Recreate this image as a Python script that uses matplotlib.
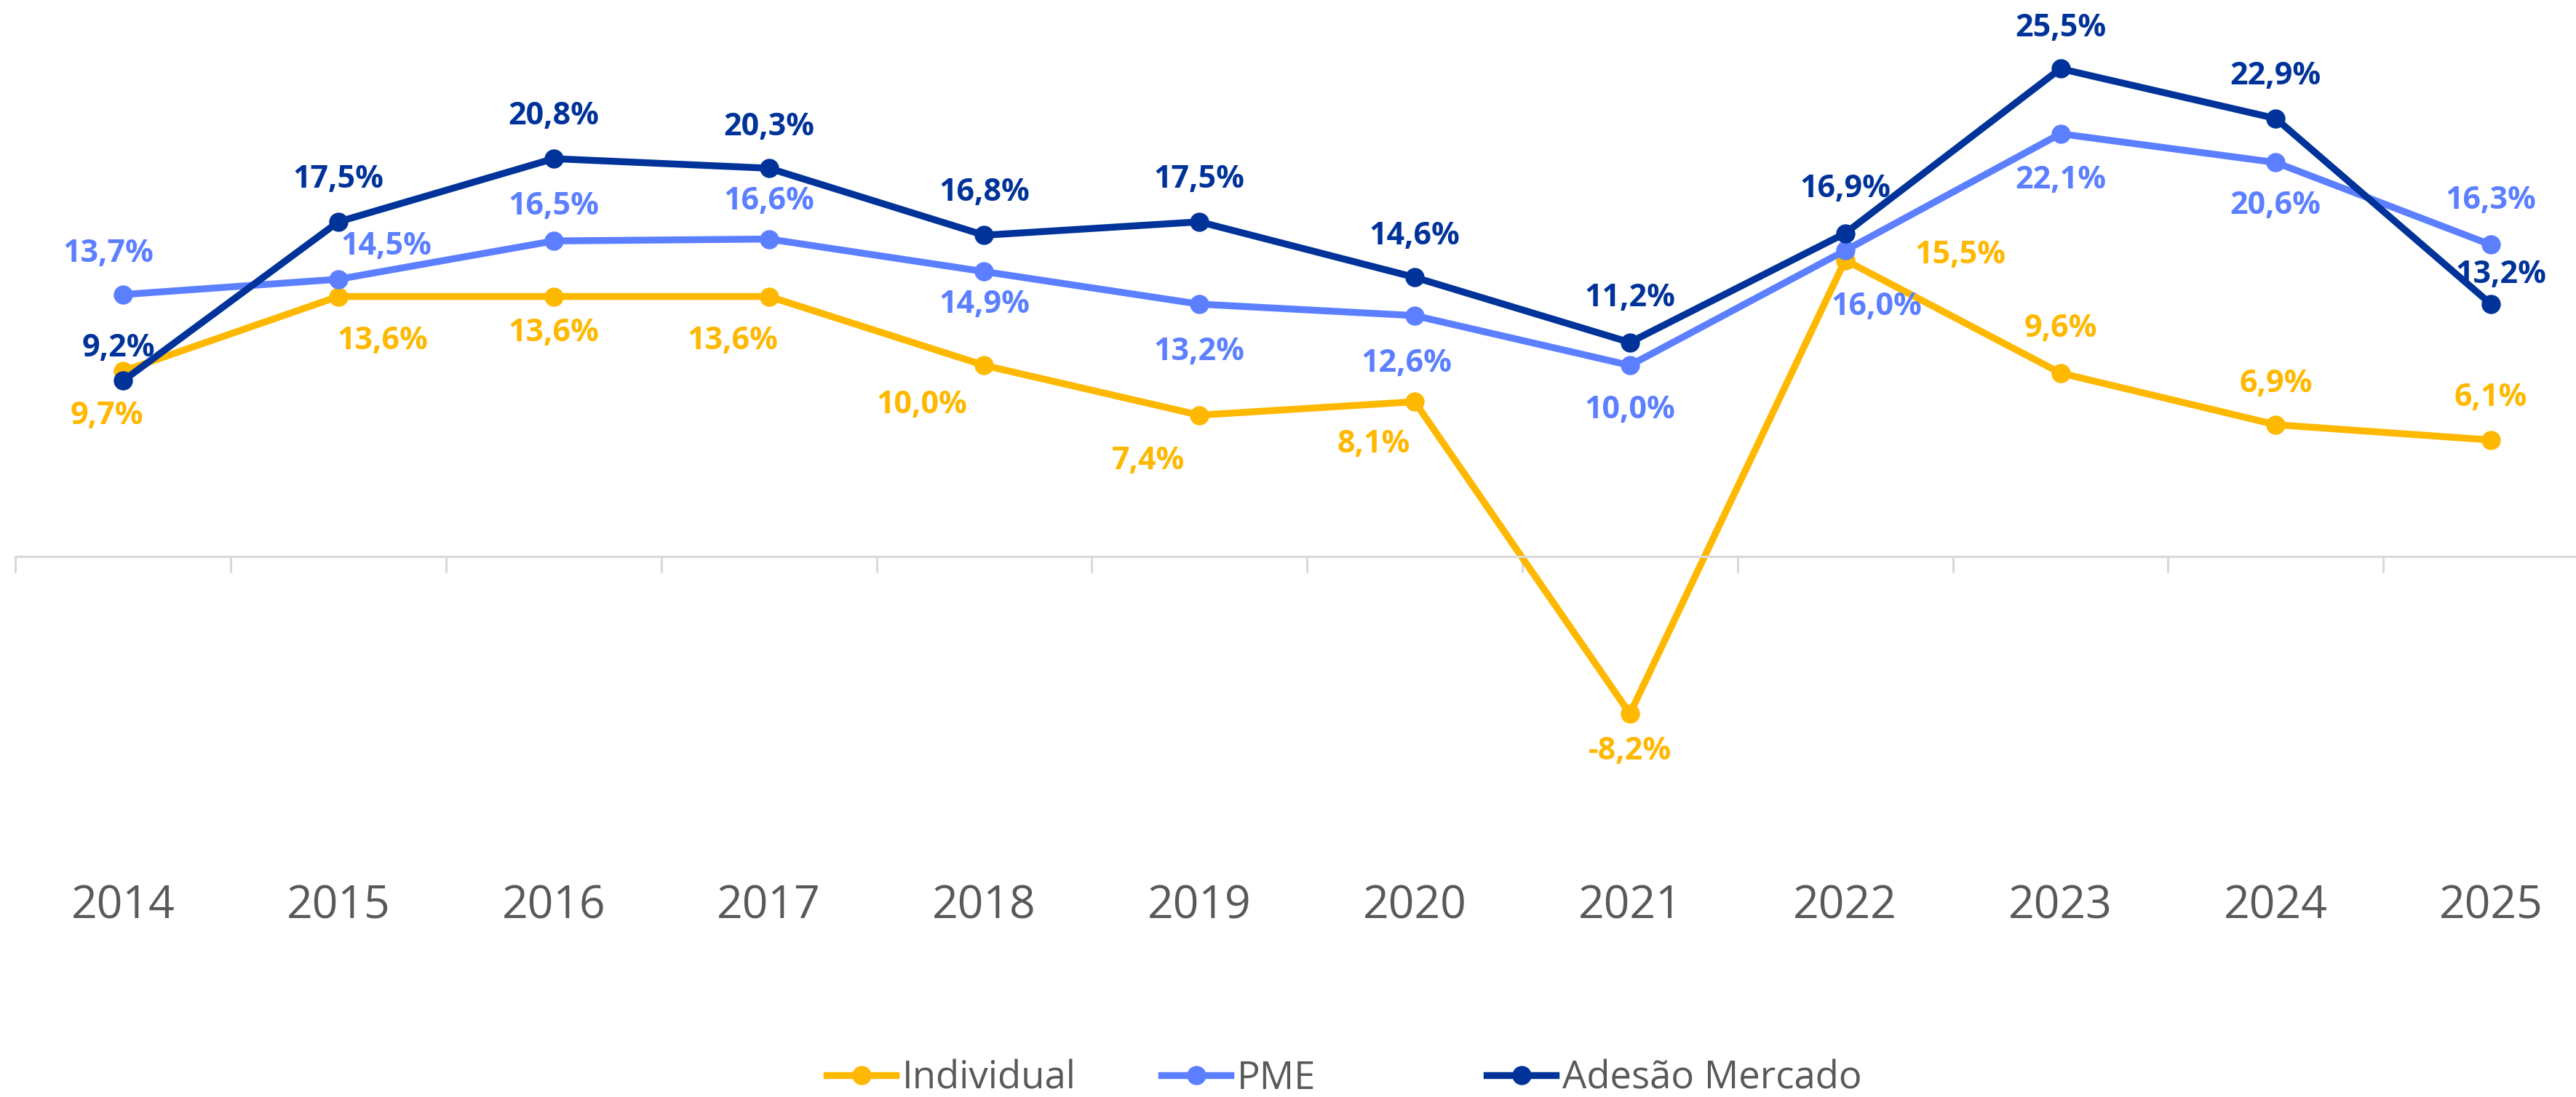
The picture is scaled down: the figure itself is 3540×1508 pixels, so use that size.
import matplotlib
matplotlib.use("Agg")
import matplotlib.pyplot as plt
import matplotlib.transforms as mtransforms

plt.rcParams['font.family'] = ['Open Sans', 'DejaVu Sans']

years = ["2014", "2015", "2016", "2017", "2018", "2019", "2020", "2021", "2022", "2023", "2024", "2025"]
individual = [9.7, 13.6, 13.6, 13.6, 10.0, 7.4, 8.1, -8.2, 15.5, 9.6, 6.9, 6.1]
pme = [13.7, 14.5, 16.5, 16.6, 14.9, 13.2, 12.6, 10.0, 16.0, 22.1, 20.6, 16.3]
adesao = [9.2, 17.5, 20.8, 20.3, 16.8, 17.5, 14.6, 11.2, 16.9, 25.5, 22.9, 13.2]
series_names = ["Individual", "PME", "Adesão Mercado"]

# label offsets (in reference small-image pixels, converted to points below)
off_ind = [(-10, -27), (27, -27), (0, -22), (-22, -27), (-38, -24), (-31, -28), (-25, -26),
           (0, -23), (70, 3), (0, 27), (0, 25), (0, 26)]
off_pme = [(-9, 25), (29, 20), (0, 21), (0, 23), (0, -20), (0, -29), (-5, -29), (0, -27),
           (19, -34), (0, -28), (0, -26), (0, 27)]
off_ade = [(-3, 20), (0, 26), (0, 26), (0, 25), (0, 26), (0, 26), (0, 25), (0, 27),
           (0, 27), (0, 25), (0, 26), (6, 18)]

colors = ["#FFB800", "#5B7FFF", "#003399"]
W, H = 3540, 1508
fig = plt.figure(figsize=(W / 100, H / 100), dpi=100)
ax = fig.add_axes([21.4 / W, 1 - 1160 / H, 3549.6 / W, (1160 - 15.5) / H])

x = list(range(len(years)))
lines = []
for vals, col, name, offs in [(individual, colors[0], series_names[0], off_ind),
                              (pme, colors[1], series_names[1], off_pme),
                              (adesao, colors[2], series_names[2], off_ade)]:
    ln, = ax.plot(x, vals, color=col, lw=6.8, marker='o', markersize=18,
                  solid_joinstyle='round', label=name, clip_on=False)
    lines.append(ln)
    for xi, v, (dx, dy) in zip(x, vals, offs):
        ax.annotate(f"{v:.1f}%".replace('.', ','), (xi, v), xytext=(dx * 1.625, dy * 1.625),
                    textcoords='offset points', ha='center', va='center',
                    fontsize=31, fontweight='bold', color=col, annotation_clip=False)

ax.set_xlim(-0.5, len(years) - 0.5)
ax.set_ylim(-15, 28.5)
for s in ['top', 'right', 'left']:
    ax.spines[s].set_visible(False)
ax.spines['bottom'].set_position(('data', 0))
ax.spines['bottom'].set_color('#D9D9D9')
ax.spines['bottom'].set_linewidth(2.2)
ax.set_yticks([])
ax.set_xticks([i - 0.5 for i in range(len(years) + 1)])
ax.set_xticklabels([])
ax.tick_params(axis='x', length=16, width=2.2, color='#D9D9D9', direction='out')

trans = mtransforms.blended_transform_factory(ax.transData, ax.transAxes)
for xi, yr in zip(x, years):
    ax.text(xi, -86 / 1144.5, yr, transform=trans, ha='center', va='center',
            fontsize=45, color='#595959', clip_on=False)

starts = [1136, 1596, 2043]
for ln, sx in zip(lines, starts):
    fig.legend(handles=[ln], loc='center left', bbox_to_anchor=(sx / W, 25 / H),
               frameon=False, borderpad=0, borderaxespad=0, fontsize=38,
               handlelength=1.8, handletextpad=0.17, labelcolor='#595959')

fig.savefig("out.png", dpi=100)
